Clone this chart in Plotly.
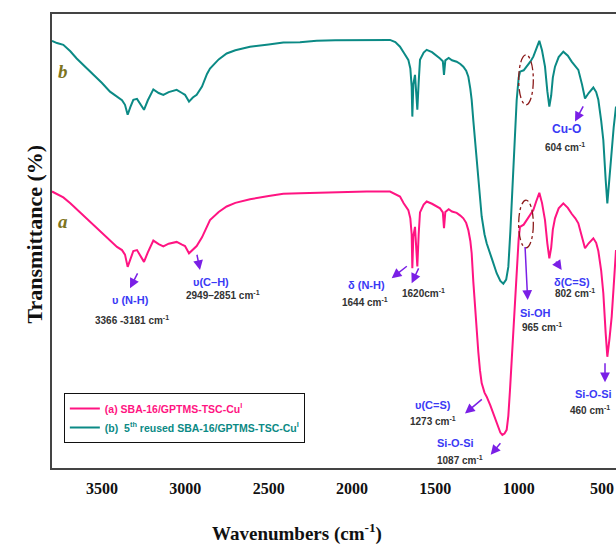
import plotly.graph_objects as go

# FTIR spectra (wavenumber cm-1, transmittance in arbitrary %)
wn_b = [3800, 3770, 3732, 3690, 3652, 3600, 3552, 3500, 3452, 3410, 3380, 3362, 3346, 3330,
        3312, 3290, 3270, 3248, 3225, 3192, 3160, 3132, 3100, 3052, 3020, 3002, 2978, 2955,
        2932, 2900, 2870, 2852, 2800, 2752, 2700, 2612, 2500, 2412, 2312, 2212, 2100, 1912,
        1772, 1740, 1712, 1690, 1662, 1650, 1642, 1638, 1632, 1622, 1614, 1608, 1600, 1592,
        1570, 1552, 1520, 1490, 1472, 1455, 1448, 1440, 1420, 1400, 1372, 1350, 1332, 1315,
        1302, 1290, 1282, 1272, 1262, 1252, 1242, 1232, 1222, 1205, 1192, 1160, 1132, 1110,
        1092, 1075, 1062, 1050, 1040, 1032, 1020, 1012, 1000, 992, 970, 952, 930, 912, 895,
        876, 860, 842, 828, 816, 805, 795, 782, 760, 732, 705, 682, 660, 642, 620, 602, 580,
        552, 535, 522, 505, 492, 478, 468, 455, 442, 430, 416]
t_b = [94.1, 93.6, 93.2, 91.8, 90.2, 88.4, 86.6, 84.8, 82.9, 81.9, 81.0, 80.0, 77.8, 79.5,
       81.1, 81.3, 80.2, 78.9, 81.0, 83.4, 82.6, 82.2, 82.8, 83.3, 82.6, 82.2, 80.7, 81.6,
       82.2, 84.0, 86.8, 88.0, 90.0, 91.3, 92.0, 92.8, 93.3, 93.7, 93.8, 94.1, 94.2, 94.3,
       94.3, 93.8, 92.8, 91.5, 89.9, 88.0, 84.0, 77.4, 84.5, 86.6, 82.0, 78.9, 85.0, 89.9,
       91.5, 92.1, 91.6, 90.8, 90.2, 89.6, 86.6, 89.8, 90.3, 89.8, 89.5, 89.0, 88.4, 87.5,
       86.2, 83.5, 81.1, 76.5, 72.2, 68.5, 64.9, 60.0, 55.4, 51.5, 49.5, 46.0, 42.9, 41.2,
       40.6, 41.5, 44.3, 52.0, 60.0, 66.4, 75.0, 81.0, 86.0, 87.3, 87.6, 88.4, 89.5, 90.6, 92.5,
       94.1, 92.0, 88.4, 83.0, 79.6, 82.0, 86.0, 88.4, 90.5, 91.7, 90.8, 89.5, 88.6, 87.7, 84.5,
       81.4, 82.6, 83.8, 82.8, 81.1, 76.5, 72.2, 63.5, 58.3, 64.0, 70.0, 75.0, 79.6]

wn_a = [3800, 3770, 3732, 3690, 3652, 3600, 3552, 3500, 3452, 3410, 3380, 3362, 3346, 3330,
        3312, 3290, 3270, 3248, 3225, 3192, 3160, 3132, 3100, 3052, 3020, 3002, 2978, 2955,
        2932, 2900, 2870, 2852, 2800, 2752, 2700, 2612, 2500, 2412, 2312, 2212, 2100, 1912,
        1772, 1740, 1712, 1690, 1662, 1650, 1642, 1638, 1632, 1622, 1614, 1608, 1600, 1592,
        1570, 1552, 1520, 1490, 1472, 1455, 1448, 1440, 1420, 1400, 1372, 1350, 1332, 1315,
        1302, 1290, 1282, 1272, 1262, 1252, 1242, 1232, 1222, 1205, 1192, 1170, 1152, 1130,
        1110, 1098, 1085, 1072, 1062, 1052, 1042, 1032, 1020, 1012, 1000, 992, 970, 952, 930,
        912, 895, 876, 860, 842, 828, 816, 805, 795, 782, 760, 732, 705, 682, 660, 642, 620,
        602, 580, 552, 535, 522, 505, 492, 478, 468, 455, 442, 430, 416]
t_a = [60.9, 60.3, 59.6, 58.3, 57.0, 55.2, 53.5, 51.7, 50.0, 48.7, 48.0, 47.0, 44.3, 46.2,
       47.8, 48.0, 46.8, 45.4, 47.5, 50.1, 49.3, 48.8, 49.4, 49.8, 49.2, 48.9, 47.3, 48.2,
       48.9, 50.8, 53.4, 54.6, 56.4, 57.6, 58.4, 59.2, 59.9, 60.4, 60.5, 60.6, 60.8, 60.9,
       60.9, 60.4, 59.8, 58.3, 56.8, 55.0, 51.5, 44.0, 51.0, 53.1, 48.5, 44.4, 51.5, 56.3,
       58.0, 58.7, 58.2, 57.5, 57.2, 56.3, 52.8, 56.4, 57.0, 56.5, 56.2, 55.6, 55.0, 54.0,
       52.4, 50.0, 47.3, 41.0, 35.5, 29.7, 25.5, 21.5, 18.7, 16.6, 15.7, 13.8, 12.0, 9.8,
       7.8, 7.3, 7.6, 8.4, 11.5, 17.2, 23.5, 29.7, 38.0, 44.3, 50.5, 53.1, 53.6, 54.6, 55.7,
       56.8, 58.7, 60.6, 58.4, 54.6, 49.5, 46.2, 48.5, 52.5, 55.0, 57.2, 58.3, 57.3, 56.0,
       55.0, 53.9, 51.0, 48.4, 49.5, 50.6, 49.6, 47.8, 43.5, 38.5, 29.7, 24.5, 28.5, 33.3,
       40.0, 48.0]

PINK = "#ff1482"
TEAL = "#0b8a85"
BLUE = "#3a3af5"
GREY = "#333333"
ARROW = "#7a1fe6"

fig = go.Figure()
fig.add_trace(go.Scatter(x=wn_a, y=t_a, mode="lines", line=dict(color=PINK, width=2),
                         name="<span style='color:%s'>(a) SBA-16/GPTMS-TSC-Cu<sup>I</sup></span>" % PINK))
fig.add_trace(go.Scatter(x=wn_b, y=t_b, mode="lines", line=dict(color=TEAL, width=2),
                         name="<span style='color:%s'>(b)  5<sup>th</sup> reused SBA-16/GPTMS-TSC-Cu<sup>I</sup></span>" % TEAL))

# peak labels: (x, y, text, colour, size)
labels = [
    (3332, 36.9, "υ (N-H)", BLUE, 11),
    (3322, 32.6, "3366 -3181 cm<sup>-1</sup>", GREY, 10),
    (2846, 41.0, "υ(C–H)", BLUE, 11),
    (2772, 38.0, "2949–2851 cm<sup>-1</sup>", GREY, 10),
    (1912, 40.3, "δ (N-H)", BLUE, 11),
    (1922, 36.5, "1644 cm<sup>-1</sup>", GREY, 10),
    (1572, 38.5, "1620cm<sup>-1</sup>", GREY, 10),
    (1512, 13.9, "υ(C=S)", BLUE, 11),
    (1512, 10.4, "1273 cm<sup>-1</sup>", GREY, 10),
    (1382, 5.6, "Si-O-Si", BLUE, 11),
    (1352, 1.8, "1087 cm<sup>-1</sup>", GREY, 10),
    (902, 34.1, "Si-OH", BLUE, 11),
    (862, 31.1, "965 cm<sup>-1</sup>", GREY, 10),
    (682, 41.0, "δ(C=S)", BLUE, 11),
    (662, 38.6, "802 cm<sup>-1</sup>", GREY, 10),
    (552, 16.3, "Si-O-Si", BLUE, 11),
    (572, 12.8, "460 cm<sup>-1</sup>", GREY, 10),
    (712, 74.6, "Cu-O", BLUE, 12),
    (722, 70.6, "604 cm<sup>-1</sup>", GREY, 10),
]
for x, y, txt, col, sz in labels:
    fig.add_annotation(x=x, y=y, text="<b>%s</b>" % txt, showarrow=False,
                       font=dict(family="Liberation Sans", size=sz, color=col))

# arrows: head (x, y), tail (x, y)
arrows = [
    (3332, 39.6, 3282, 43.2),
    (2912, 43.6, 2932, 47.3),
    (1762, 41.8, 1662, 44.7),
    (1642, 40.7, 1596, 44.3),
    (1322, 12.0, 1212, 15.4),
    (1168, 2.9, 1102, 5.8),
    (946, 37.0, 962, 49.0),
    (742, 43.6, 782, 45.8),
    (482, 18.9, 482, 23.4),
    (662, 76.3, 608, 80.0),
]
for hx, hy, tx, ty in arrows:
    fig.add_annotation(x=hx, y=hy, ax=tx, ay=ty, axref="x", ayref="y", text="",
                       showarrow=True, arrowhead=2, arrowsize=1.3, arrowwidth=1.5,
                       arrowcolor=ARROW)

# curve letters
for y, t in [(87.4, "b"), (54.2, "a")]:
    fig.add_annotation(x=3734, y=y, text="<i><b>%s</b></i>" % t, showarrow=False,
                       font=dict(family="Liberation Serif", size=19, color="#7d7420"))

# dashed ellipses round the Si-OH shoulder
for y0, y1 in [(80.0, 91.0), (48.5, 59.0)]:
    fig.add_shape(type="circle", xref="x", yref="y", x0=1000, x1=912, y0=y0, y1=y1,
                  line=dict(color="#8b1a1a", width=1.3, dash="dashdot"))

# axis titles
fig.add_annotation(xref="paper", yref="paper", x=-0.057, y=0.515, text="<b>Transmittance (%)</b>",
                   textangle=-90, showarrow=False,
                   font=dict(family="Liberation Serif", size=22, color="#111"))
fig.add_annotation(xref="paper", yref="paper", x=0.434, y=-0.143, text="<b>Wavenumbers (cm<sup>-1</sup>)</b>",
                   showarrow=False, yanchor="middle",
                   font=dict(family="Liberation Serif", size=19, color="#111"))

fig.update_xaxes(range=[3800, 416], tickvals=[3500, 3000, 2500, 2000, 1500, 1000, 500],
                 showgrid=False, zeroline=False, showline=True, linecolor="#444", linewidth=1.5,
                 mirror=True, ticks="", ticklabelstandoff=5,
                 tickfont=dict(family="Liberation Serif", size=16, color="#111", weight="bold"))
fig.update_yaxes(range=[0, 100], showticklabels=False, showgrid=False, zeroline=False,
                 showline=True, linecolor="#444", linewidth=1.5, ticks="")

fig.update_layout(
    width=616, height=545,
    margin=dict(l=52, r=0, t=14, b=77),
    plot_bgcolor="white", paper_bgcolor="white",
    showlegend=True,
    legend=dict(x=0.021, y=0.165, xanchor="left", yanchor="top", bgcolor="white",
                bordercolor="#111", borderwidth=1, itemwidth=30, tracegroupgap=0,
                font=dict(family="Liberation Sans", size=10.5, weight="bold")),
)

# page body has an 8px margin by default, drop it so the figure fills the window
fig.write_html("out.html", config={"displayModeBar": False},
               post_script="document.body.style.margin='0';document.body.style.overflow='hidden';")
